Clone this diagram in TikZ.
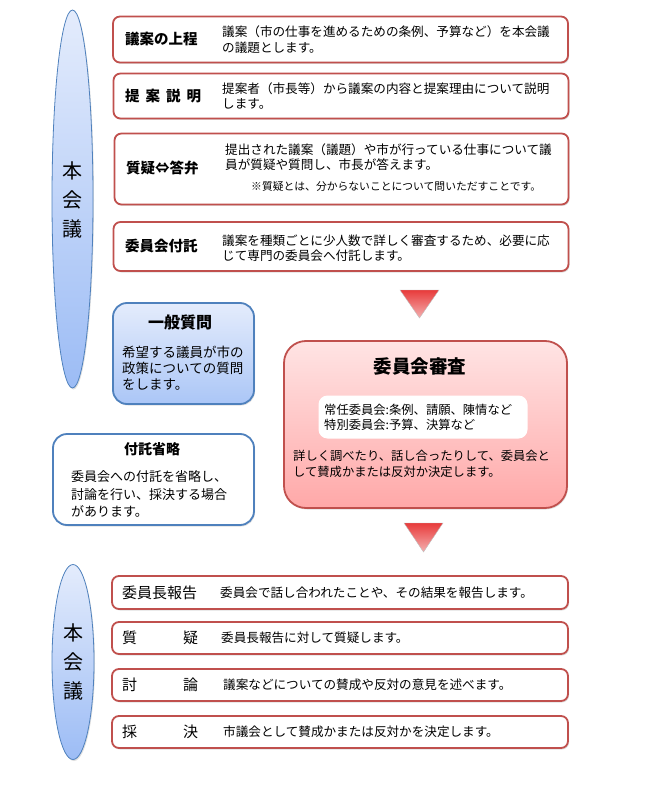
\documentclass[tikz,border=0pt]{standalone}
\usepackage{fontspec}
\setmainfont{Noto Sans CJK JP}
\usetikzlibrary{shapes.geometric,shadows}
\definecolor{redb}{HTML}{C0504D}
\definecolor{blueb}{HTML}{4F81BD}
\definecolor{elltop}{HTML}{E4ECFC}
\definecolor{ellbot}{HTML}{9CBCF5}
\definecolor{pinkT}{HTML}{FFE4E4}
\definecolor{pinkB}{HTML}{FFA8A8}
\definecolor{triT}{HTML}{E83B3B}
\definecolor{triB}{HTML}{F4B0B0}
\tikzset{
  shad/.style={drop shadow={opacity=0.25,shadow xshift=1pt,shadow yshift=-1.5pt}},
  redbox/.style={draw=redb,line width=1.8pt,fill=white,rounded corners=7pt,inner sep=0pt,shad},
  lab/.style={anchor=west,inner sep=0pt,font=\fontsize{14.5}{17}\selectfont\bfseries},
  blab/.style={anchor=west,inner sep=0pt,font=\fontsize{15}{17}\selectfont},
  desc/.style={anchor=west,inner sep=0pt,align=left,font=\fontsize{12.6}{15.5}\selectfont},
  ell/.style={ellipse,draw=blueb,line width=0.8pt,top color=elltop,bottom color=ellbot,inner sep=0pt,shad},
  elltext/.style={inner sep=0pt,align=center,font=\fontsize{20}{29}\selectfont},
  tri/.style={draw=black!25,line width=0.4pt,top color=triT,bottom color=triB}
}
\begin{document}
\begin{tikzpicture}[x=1pt,y=-1pt]
\useasboundingbox (0,0) rectangle (650,794);

% top ellipse
\node[ell,minimum width=41pt,minimum height=378pt] (e1) at (72.5,199) {};
\node[elltext] (e1t) at (72,200) {本\\会\\議};

% top boxes
\node[redbox,minimum width=455pt,minimum height=46pt] (b1) at (340.5,39.5) {};
\node[lab] (l1) at (125,39.5) {議案の上程};
\node[desc] (d1) at (222,39.5) {議案（市の仕事を進めるための条例、予算など）を本会議\\の議題とします。};

\node[redbox,minimum width=455pt,minimum height=45pt] (b2) at (341,96) {};
\node[lab,text width=76pt] (l2) at (125,96) {提\hfill 案\hfill 説\hfill 明};
\node[desc] (d2) at (222,96) {提案者（市長等）から議案の内容と提案理由について説明\\します。};

\node[redbox,minimum width=454pt,minimum height=71pt] (b3) at (341.5,169) {};
\node[lab] (l3) at (126,168) {質疑⇔答弁};
\node[desc] (d3) at (225,157) {提出された議案（議題）や市が行っている仕事について議\\員が質疑や質問し、市長が答えます。};
\node[desc,font=\fontsize{10.8}{13}\selectfont] (n3) at (251,186) {※質疑とは、分からないことについて問いただすことです。};

\node[redbox,minimum width=455pt,minimum height=49pt] (b4) at (341,246.5) {};
\node[lab] (l4) at (125,246) {委員会付託};
\node[desc] (d4) at (222,248) {議案を種類ごとに少人数で詳しく審査するため、必要に応\\じて専門の委員会へ付託します。};

% triangle 1
\shade[tri] (400,290) -- (439,290) -- (419.5,318) -- cycle;

% general question
\node[draw=blueb,line width=1.8pt,rounded corners=14pt,top color=elltop,bottom color=ellbot!85,minimum width=141pt,minimum height=101pt,inner sep=0pt,shad] (g) at (183.5,353.5) {};
\node[inner sep=0pt,font=\fontsize{16}{18}\selectfont\bfseries] (gt) at (180,322) {一般質問};
\node[desc,font=\fontsize{13.5}{16}\selectfont] (gd) at (122,368) {希望する議員が市の\\政策についての質問\\をします。};

% omission
\node[draw=blueb,line width=1.8pt,rounded corners=14pt,fill=white,minimum width=201pt,minimum height=91pt,inner sep=0pt,shad] (o) at (153.5,479.5) {};
\node[inner sep=0pt,font=\fontsize{14}{16}\selectfont\bfseries] (ot) at (152,449) {付託省略};
\node[desc,font=\fontsize{13}{17.5}\selectfont] (od) at (71,494) {委員会への付託を省略し、\\討論を行い、採決する場合\\があります。};

% committee review
\node[draw=redb,line width=1.8pt,rounded corners=22pt,top color=pinkT,bottom color=pinkB,minimum width=283pt,minimum height=167pt,inner sep=0pt,shad] (c) at (425.5,424.5) {};
\node[inner sep=0pt,font=\fontsize{18.5}{20}\selectfont\bfseries] (ct) at (420,366) {委員会審査};
\node[fill=white,rounded corners=9pt,minimum width=209pt,minimum height=43pt,inner sep=0pt] (ci) at (423,417) {};
\node[desc,font=\fontsize{12.3}{15}\selectfont] (cid) at (324,417) {常任委員会:条例、請願、陳情など\\特別委員会:予算、決算など};
\node[desc,font=\fontsize{12.3}{16.5}\selectfont] (cd) at (293,464) {詳しく調べたり、話し合ったりして、委員会と\\して賛成かまたは反対か決定します。};

% triangle 2
\shade[tri] (404,523) -- (443,523) -- (423.5,552) -- cycle;

% bottom ellipse
\node[ell,minimum width=42pt,minimum height=195pt] (e2) at (73,662) {};
\node[elltext] (e2t) at (73,662) {本\\会\\議};

% bottom boxes
\node[redbox,minimum width=456pt,minimum height=33pt] (c1) at (340,592.5) {};
\node[blab] (m1) at (122,592.5) {委員長報告};
\node[desc] (f1) at (220,592.5) {委員会で話し合われたことや、その結果を報告します。};

\node[redbox,minimum width=456pt,minimum height=32pt] (c2) at (340,638) {};
\node[blab,text width=76pt] (m2) at (122,638) {質\hfill 疑};
\node[desc] (f2) at (221,638) {委員長報告に対して質疑します。};

\node[redbox,minimum width=456pt,minimum height=32pt] (c3) at (340,685) {};
\node[blab,text width=76pt] (m3) at (122,685) {討\hfill 論};
\node[desc] (f3) at (223,685) {議案などについての賛成や反対の意見を述べます。};

\node[redbox,minimum width=456pt,minimum height=32pt] (c4) at (340,732) {};
\node[blab,text width=76pt] (m4) at (122,732) {採\hfill 決};
\node[desc] (f4) at (223,732) {市議会として賛成かまたは反対かを決定します。};
\end{tikzpicture}
\end{document}
